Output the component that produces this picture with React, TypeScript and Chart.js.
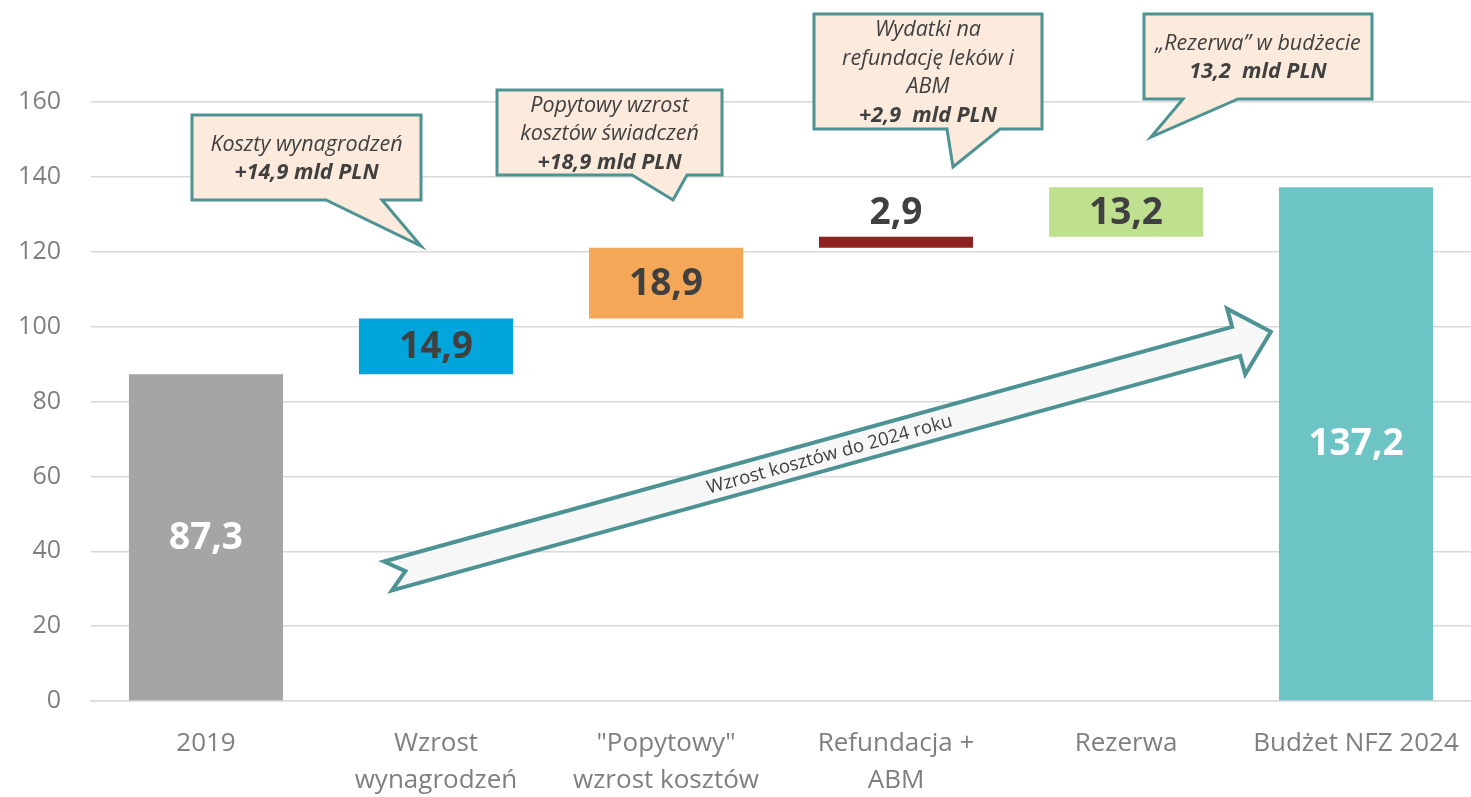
import React, { useEffect, useRef } from "react";
import { Chart, registerables } from "chart.js";

Chart.register(...registerables);

// ---------- DATA ----------
const categories: string[][] = [
  ["2019"],
  ["Wzrost", "wynagrodzeń"],
  ['"Popytowy"', "wzrost kosztów"],
  ["Refundacja +", "ABM"],
  ["Rezerwa"],
  ["Budżet NFZ 2024"],
];
const startValue = 87.3;
const increments = [14.9, 18.9, 2.9, 13.2];
const endValue = 137.2;
const valueLabels = ["87,3", "14,9", "18,9", "2,9", "13,2", "137,2"];
const yMin = 0;
const yMax = 160;
const yStep = 20;

const calloutTexts: string[][] = [
  ["Koszty wynagrodzeń", "+14,9 mld PLN"],
  ["Popytowy wzrost", "kosztów świadczeń", "+18,9 mld PLN"],
  ["Wydatki na", "refundację leków i", "ABM", "+2,9  mld PLN"],
  ["„Rezerwa” w budżecie", "13,2  mld PLN"],
];
const arrowText = "Wzrost kosztów do 2024 roku";

// ---------- STYLES ----------
const barColors = ["#A5A5A5", "#00A6DB", "#F4A857", "#8E2220", "#BFE08F", "#6CC4C4"];
const labelColors = ["#FFFFFF", "#404040", "#404040", "#404040", "#404040", "#FFFFFF"];
const labelAbove = [false, false, false, true, false, false];

const calloutBoxes = [
  { x: 192, y: 115, w: 229, h: 85, base: [326, 382], tip: [421, 246] },
  { x: 497, y: 90, w: 225, h: 85, base: [632, 687], tip: [673, 200] },
  { x: 814, y: 14, w: 228, h: 115, base: [947, 1000], tip: [953, 167] },
  { x: 1144, y: 14, w: 228, h: 85, base: [1183, 1238], tip: [1151, 137] },
];
const arrowGeom = { ox: 388, oy: 576, angleDeg: -15.46, length: 916, half: 15, headHalf: 34, headLen: 36, notch: 18 };

const FONT = "'Open Sans', 'DejaVu Sans', sans-serif";

function buildFloating(): [number, number][] {
  const out: [number, number][] = [[0, startValue]];
  let cum = startValue;
  for (const inc of increments) {
    const next = Math.round((cum + inc) * 10) / 10;
    out.push([cum, next]);
    cum = next;
  }
  out.push([0, endValue]);
  return out;
}

const overlayPlugin = {
  id: "overlay",
  afterDatasetsDraw(chart: any) {
    const ctx = chart.ctx as CanvasRenderingContext2D;
    const meta = chart.getDatasetMeta(0);

    // arrow
    ctx.save();
    ctx.translate(arrowGeom.ox, arrowGeom.oy);
    ctx.rotate((arrowGeom.angleDeg * Math.PI) / 180);
    const { length: L, half: h, headHalf: H, headLen: HL, notch: N } = arrowGeom;
    ctx.beginPath();
    ctx.moveTo(0, -h);
    ctx.lineTo(L - HL, -h);
    ctx.lineTo(L - HL, -H);
    ctx.lineTo(L, 0);
    ctx.lineTo(L - HL, H);
    ctx.lineTo(L - HL, h);
    ctx.lineTo(0, h);
    ctx.lineTo(N, 0);
    ctx.closePath();
    ctx.fillStyle = "#F7F7F7";
    ctx.fill();
    ctx.lineWidth = 4;
    ctx.strokeStyle = "#4D9393";
    ctx.lineJoin = "miter";
    ctx.stroke();
    ctx.fillStyle = "#404040";
    ctx.font = `18.5px ${FONT}`;
    ctx.textAlign = "center";
    ctx.textBaseline = "middle";
    ctx.fillText(arrowText, L / 2, 1);
    ctx.restore();

    // value labels
    ctx.save();
    ctx.font = `bold 37px ${FONT}`;
    ctx.textAlign = "center";
    meta.data.forEach((bar: any, i: number) => {
      const props = bar.getProps(["x", "y", "base"], true);
      const top = Math.min(props.y, props.base);
      const bottom = Math.max(props.y, props.base);
      ctx.fillStyle = labelColors[i];
      if (labelAbove[i]) {
        ctx.textBaseline = "alphabetic";
        ctx.fillText(valueLabels[i], props.x, top - 13);
      } else {
        ctx.textBaseline = "middle";
        ctx.fillText(valueLabels[i], props.x, (top + bottom) / 2 + 1);
      }
    });
    ctx.restore();

    // callouts
    calloutBoxes.forEach((c, k) => {
      ctx.save();
      ctx.beginPath();
      ctx.moveTo(c.x, c.y);
      ctx.lineTo(c.x + c.w, c.y);
      ctx.lineTo(c.x + c.w, c.y + c.h);
      ctx.lineTo(c.base[1], c.y + c.h);
      ctx.lineTo(c.tip[0], c.tip[1]);
      ctx.lineTo(c.base[0], c.y + c.h);
      ctx.lineTo(c.x, c.y + c.h);
      ctx.closePath();
      ctx.fillStyle = "#FCEBDC";
      ctx.fill();
      ctx.lineWidth = 3;
      ctx.strokeStyle = "#4D9393";
      ctx.lineJoin = "miter";
      ctx.stroke();
      const lines = calloutTexts[k];
      const spacing = 28.5;
      const mid = c.y + c.h / 2 + 1.5;
      const startY = mid - ((lines.length - 1) * spacing) / 2;
      ctx.fillStyle = "#404040";
      ctx.textAlign = "center";
      ctx.textBaseline = "middle";
      lines.forEach((ln, j) => {
        const bold = j === lines.length - 1;
        ctx.font = `italic ${bold ? "bold " : ""}21.5px ${FONT}`;
        ctx.fillText(ln, c.x + c.w / 2, startY + j * spacing);
      });
      ctx.restore();
    });
  },
};

export default function App() {
  const ref = useRef<HTMLCanvasElement | null>(null);
  useEffect(() => {
    if (!ref.current) return;
    const chart = new Chart(ref.current, {
      type: "bar",
      data: {
        labels: categories,
        datasets: [
          {
            data: buildFloating() as any,
            backgroundColor: barColors,
            borderWidth: 0,
            barPercentage: 0.67,
            categoryPercentage: 1,
          },
        ],
      },
      options: {
        animation: false,
        responsive: false,
        layout: { padding: { top: 102, left: 0, right: 0, bottom: 0 } },
        plugins: { legend: { display: false }, tooltip: { enabled: false } },
        scales: {
          x: {
            grid: { display: false, drawTicks: false },
            border: { display: true, color: "#D9D9D9", width: 1.5 },
            ticks: {
              color: "#7F7F7F",
              font: { family: FONT, size: 26, lineHeight: 1.42 },
              padding: 24,
              maxRotation: 0,
              autoSkip: false,
            },
            afterFit: (s: any) => {
              s.height = 96;
              s.paddingRight = 0;
              s.paddingLeft = 0;
            },
          },
          y: {
            min: yMin,
            max: yMax,
            ticks: {
              stepSize: yStep,
              color: "#7F7F7F",
              font: { family: FONT, size: 25 },
              padding: 30,
            },
            grid: { color: "#D9D9D9", lineWidth: 1.5, drawTicks: false },
            border: { display: false },
            afterFit: (s: any) => {
              s.width = 91;
            },
          },
        },
      },
      plugins: [overlayPlugin],
    });
    return () => chart.destroy();
  }, []);
  return (
    <div style={{ position: "absolute", left: 0, top: 0, width: 1471, height: 797, background: "#fff" }}>
      <canvas ref={ref} width={1471} height={797} />
    </div>
  );
}
